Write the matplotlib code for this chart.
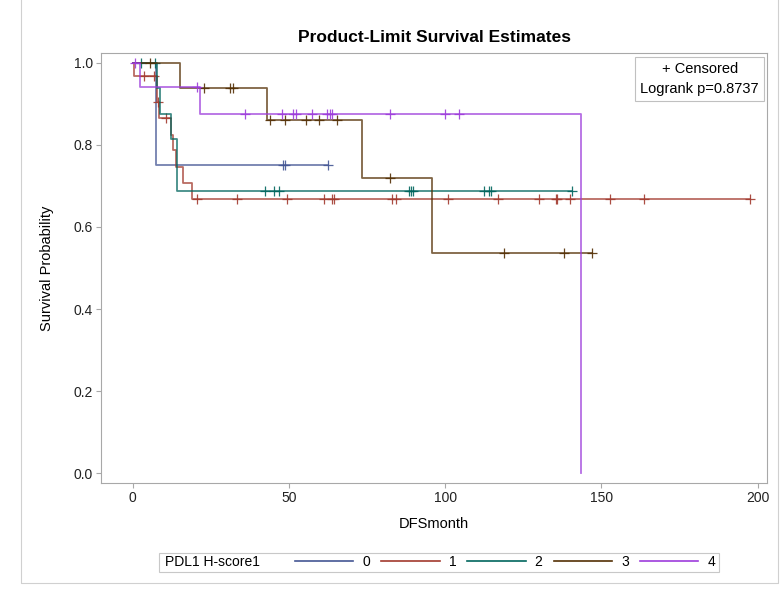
import numpy as np
import matplotlib.pyplot as plt
from matplotlib.lines import Line2D
from matplotlib.patches import Rectangle

plt.rcParams['font.family'] = ['Liberation Sans', 'DejaVu Sans']

GROUPS = ["0", "1", "2", "3", "4"]
COLORS = ["#445694", "#A23A2E", "#01665E", "#543005", "#9D3CDB"]

# event times (months) and survival right after each event
events0 = [7.4]
surv0 = [0.75]
cens0 = [48.0, 48.6, 62.4]

events1 = [0.4, 7.6, 8.4, 12.2, 12.9, 13.8, 15.9, 18.8]
surv1 = [0.968, 0.904, 0.866, 0.824, 0.787, 0.747, 0.707, 0.668]
cens1 = [3.6, 6.8, 7.9, 10.6, 20.4, 33.2, 49.4, 61.2, 63.9, 64.4, 83.0, 84.1,
         100.9, 116.9, 129.9, 135.4, 135.9, 139.8, 152.9, 163.5, 197.4]

events2 = [7.6, 8.6, 12.1, 14.1]
surv2 = [0.938, 0.875, 0.814, 0.688]
cens2 = [2.6, 7.2, 42.2, 45.1, 46.7, 88.3, 89.0, 89.7, 112.4, 113.9, 114.5, 140.6]

events3 = [15.0, 42.8, 73.4, 95.6]
surv3 = [0.938, 0.861, 0.719, 0.537]
cens3 = [5.4, 22.7, 31.0, 32.0, 44.0, 48.6, 55.5, 59.6, 65.5, 82.2, 118.8, 137.9, 147.1]

events4 = [2.2, 21.4, 143.6]
surv4 = [0.941, 0.876, 0.0]
cens4 = [0.6, 20.4, 36.0, 47.9, 51.3, 52.1, 57.4, 62.2, 63.0, 63.8, 82.2, 99.8, 104.3]

EVENTS = [events0, events1, events2, events3, events4]
SURV = [surv0, surv1, surv2, surv3, surv4]
CENS = [cens0, cens1, cens2, cens3, cens4]


fig = plt.figure(figsize=(7.8, 5.9), dpi=100)
ax = fig.add_axes([101 / 780, 1 - 483 / 590, 666 / 780, 430 / 590])

for ev, sv, cn, col in zip(EVENTS, SURV, CENS, COLORS):
    end = max(ev + cn)
    s_full = np.array([1.0] + sv)
    t = [0.0] + ev + [end]
    s = list(s_full) + [sv[-1]]
    ax.step(t, s, where='post', color=col, lw=1.3, alpha=0.75)
    # censored marks sit on the curve
    cy = s_full[np.searchsorted(ev, cn, side='right')]
    ax.plot(cn, cy, '+', color=col, ms=6.5, mew=0.9, ls='none', alpha=0.9)

ax.set_xlim(-10.2, 203)
ax.set_ylim(-0.024, 1.024)
ax.set_xticks([0, 50, 100, 150, 200])
ax.set_yticks([0.0, 0.2, 0.4, 0.6, 0.8, 1.0])
ax.set_yticklabels(["%.1f" % v for v in [0.0, 0.2, 0.4, 0.6, 0.8, 1.0]])

for sp in ax.spines.values():
    sp.set_color('#a8a8a8')
ax.tick_params(direction='out', length=3.6, width=0.8, color='#a8a8a8',
               labelsize=10, labelcolor='#222222', pad=2)

ax.set_xlabel("DFSmonth", fontsize=10.5, labelpad=9)
ax.set_ylabel("Survival Probability", fontsize=10.5, labelpad=14)
ax.set_title("Product-Limit Survival Estimates", fontsize=12.5,
             fontweight='bold', pad=8)

ax.text(0.988, 0.978, "+ Censored\nLogrank p=0.8737", transform=ax.transAxes,
        ha='right', va='top', ma='center', fontsize=10.5, linespacing=1.5,
        bbox=dict(boxstyle='square,pad=0.35', fc='white', ec='#c0c0c0', lw=0.8))

# legend along the bottom
handles = [Line2D([], [], color=c, lw=1.2) for c in COLORS]
fig.legend(handles, GROUPS, ncol=5, loc='center',
           bbox_to_anchor=(505 / 780, 1 - 562 / 590), frameon=False,
           fontsize=10, handlelength=4.2, handletextpad=0.65,
           columnspacing=0.8, borderpad=0)
fig.text(165 / 780, 1 - 562 / 590, "PDL1 H-score1", fontsize=10,
         ha='left', va='center')
fig.add_artist(Rectangle((159 / 780, 1 - 572 / 590), 560 / 780, 19 / 590,
                         transform=fig.transFigure, fill=False,
                         ec='#c8c8c8', lw=0.8))

# outer graph border
fig.add_artist(Line2D([21 / 780, 21 / 780, 778 / 780, 778 / 780],
                      [1.0, 1 - 583 / 590, 1 - 583 / 590, 1.0],
                      transform=fig.transFigure, color='#d0d0d0', lw=0.8))

fig.savefig("out.png", dpi=100)
